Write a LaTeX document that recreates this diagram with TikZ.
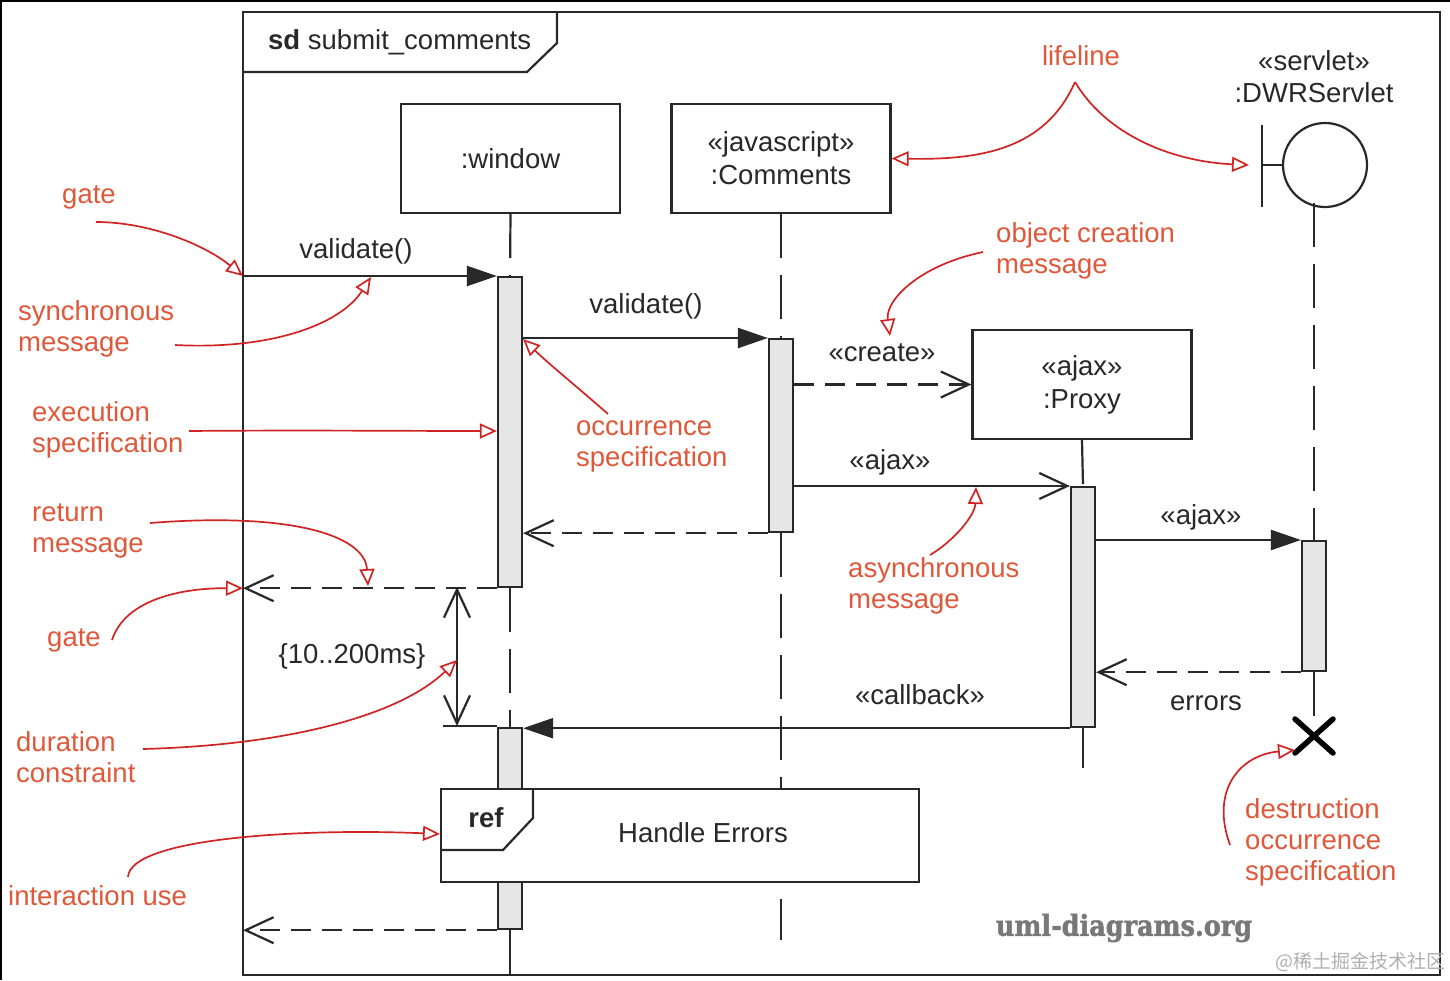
\documentclass[tikz,border=0pt]{standalone}
\usepackage{fontspec}
\setmainfont{Liberation Sans}
\newfontfamily\wmfont[FakeStretch=0.88,FakeBold=1.5]{DejaVu Serif}
\newfontfamily\cjkfont{Noto Sans CJK SC}
\usetikzlibrary{arrows.meta,calc}
\definecolor{ink}{RGB}{40,40,40}
\definecolor{annotext}{RGB}{224,88,58}
\definecolor{annoline}{RGB}{208,36,36}
\definecolor{actfill}{RGB}{230,230,230}
\tikzset{
  vtip/.tip={Straight Barb[length=28pt,width=26pt,line width=2.2pt]},
  base/.style={line width=2.2pt, draw=ink},
  txt/.style={font=\fontsize{27.5}{31}\selectfont, text=ink, inner sep=0pt, align=center},
  atxt/.style={font=\fontsize{27.5}{31}\selectfont, text=annotext, inner sep=0pt, align=left, anchor=west},
  lifebox/.style={base, fill=white, minimum width=219pt, minimum height=109pt, inner sep=0pt, font=\fontsize{27.5}{33}\selectfont, text=ink, align=center},
  act/.style={base, fill=actfill, minimum width=24pt, inner sep=0pt, anchor=north},
  lifeline/.style={base, dash pattern=on 44pt off 17pt},
  sync/.style={base, -{Triangle[length=30pt,width=20pt]}},
  async/.style={base, -{vtip}},
  retmsg/.style={base, dash pattern=on 20pt off 11pt, -{vtip}},
  anno/.style={draw=annoline, line width=1.7pt, -{Triangle[open,length=17pt,width=15pt,line width=1.7pt]}},
}
\begin{document}
\begin{tikzpicture}[x=1pt,y=-1pt]
\useasboundingbox (0,0) rectangle (1450,980);
\fill[white] (0,0) rectangle (1450,980);
\draw[line width=4pt, black] (0,0) -- (1450,0);
\draw[line width=4pt, black] (0,0) -- (0,980);

% frame
\draw[base] (243,12) rectangle (1440,975);
\draw[base] (243,72) -- (527,72) -- (557,43) -- (557,12);
\node[txt, anchor=west] (sd) at (268,42) {\textbf{sd} submit\_comments};

% lifeline heads
\node[lifebox] (w) at (510.5,158.5) {:window};
\node[lifebox] (c) at (781,158.5) {«javascript»\\:Comments};
\node[lifebox] (p) at (1082,384.5) {«ajax»\\:Proxy};
\node[txt, font=\fontsize{27.5}{32}\selectfont] (s) at (1314,77) {«servlet»\\:DWRServlet};
\node[base, circle, minimum size=84pt, inner sep=0pt] (sc) at (1325,165) {};
\coordinate (sb1) at (1262,125);
\coordinate (sb2) at (1262,207);
\draw[base] (sb1) -- (sb2);
\draw[base] (1262,165) -- (sc.west);
\coordinate (stop) at (1314,203);

% activations
\node[act, minimum height=310pt] (a1) at (510,276) {};
\node[act, minimum height=193pt] (a2) at (781,338) {};
\node[act, minimum height=240pt] (a3) at (1083,486) {};
\node[act, minimum height=130pt] (a4) at (1314,540) {};
\node[act, minimum height=201pt] (a5) at (510,727) {};

% lifelines
\coordinate (wend) at (510,975);
\coordinate (cend) at (781,940);
\coordinate (pend) at (1083,768);
\draw[lifeline] (w.south) -- (a1.north);
\draw[lifeline] (a1.south) -- (a5.north);
\draw[lifeline] (a5.south) -- (wend);
\draw[lifeline] (c.south) -- (a2.north);
\draw[lifeline] (a2.south) -- (cend);
\draw[lifeline] (p.south) -- (a3.north);
\draw[lifeline] (a3.south) -- (pend);
\draw[lifeline] (stop) -- (a4.north);

% destruction
\coordinate (X) at (1314,736);
\draw[lifeline] (a4.south) -- (X);
\draw[line width=5.5pt, black, line cap=round] ($(X)+(-19,-17)$) -- ($(X)+(19,17)$);
\draw[line width=5.5pt, black, line cap=round] ($(X)+(-19,17)$) -- ($(X)+(19,-17)$);

% gates (on the frame edge)
\coordinate (gx) at (243,0);
\coordinate (g1) at (gx |- a1.north west);
\coordinate (g2) at (gx |- a1.south west);
\coordinate (g3) at (gx |- a5.south west);

% messages
\draw[sync] (g1) -- (a1.north west);
\node[txt] (m1) at (356,251) {validate()};
\draw[sync] (a1.east |- a2.north west) -- (a2.north west);
\node[txt] (m2) at (646,306) {validate()};
\draw[retmsg] (a2.east |- p.west) -- (p.west);
\node[txt] (m3) at (882,353) {«create»};
\draw[async] (a2.east |- a3.north west) -- (a3.north west);
\node[txt] (m4) at (890,462) {«ajax»};
\draw[sync] (a3.east |- a4.north west) -- (a4.north west);
\node[txt] (m5) at (1201,517) {«ajax»};
\draw[retmsg] (a4.south west) -- (a3.east |- a4.south west);
\node[txt] (m6) at (1206,703) {errors};
\draw[sync] (a3.south west) -- (a3.south west -| a5.east);
\node[txt] (m7) at (920,695) {«callback»};
\draw[retmsg] (a2.south west) -- (a1.east |- a2.south west);
\draw[retmsg] (a1.south west) -- (g2);
\draw[retmsg] (a5.south west) -- (g3);

% duration constraint
\coordinate (d1) at (457,587);
\coordinate (d2) at (457,726);
\coordinate (dt) at (443,726);
\draw[base, {vtip}-{vtip}] (d1) -- (d2);
\draw[base] (dt) -- (dt -| a5.west);
\node[txt] (dc) at (352,656) {\{10..200ms\}};

% interaction use
\node[base, fill=white, minimum width=478pt, minimum height=93pt, inner sep=0pt, anchor=north west] (ref) at (440,788) {};
\draw[base] (ref.north west) ++(0,62) -- ++(63,0) -- ++(30,-32) -- ++(0,-30);
\node[txt, font=\bfseries\fontsize{27.5}{31}\selectfont] (reft) at (486,818) {ref};
\node[txt] (he) at (703,833) {Handle Errors};

% watermarks
\node[inner sep=0pt, text={rgb,255:red,120;green,120;blue,120}, font=\wmfont\bfseries\fontsize{29}{32}\selectfont] (wm) at (1124,928) {uml-diagrams.org};
\node[inner sep=0pt, anchor=east, text={rgb,255:red,175;green,175;blue,175}, font=\cjkfont\fontsize{19}{22}\selectfont] (cn) at (1446,962) {@稀土掘金技术社区};

% annotations
\node[atxt, anchor=center] (t1) at (1081,56) {lifeline};
\coordinate (lp) at (1075,82);
\draw[anno] (lp) .. controls (1045,150) and (980,160) .. (c.east);
\draw[anno] (lp) .. controls (1110,140) and (1180,162) .. (1249,165);

\node[atxt] (t2) at (996,251) {object creation\\message};
\draw[anno] (983,252) .. controls (920,265) and (885,300) .. (890,336);

\node[atxt, anchor=center] (t3) at (89,197) {gate};
\draw[anno] (96,222) .. controls (150,222) and (205,245) .. (g1);

\node[atxt] (t4) at (18,329) {synchronous\\message};
\draw[anno] (175,345) .. controls (270,350) and (340,325) .. (371,277);

\node[atxt] (t5) at (32,430) {execution\\specification};
\draw[anno] (189,431) .. controls (300,430) and (400,431) .. (a1.west |- 0,431);

\node[atxt] (t6) at (576,446) {occurrence\\specification};
\draw[anno] (608,414) .. controls (575,385) and (550,365) .. (523,339);

\node[atxt] (t7) at (32,531) {return\\message};
\draw[anno] (150,523) .. controls (290,512) and (365,535) .. (368,586);

\node[atxt, anchor=center] (t8) at (74,640) {gate};
\draw[anno] (112,640) .. controls (125,600) and (180,588) .. (g2);

\node[atxt] (t9) at (848,586) {asynchronous\\message};
\draw[anno] (930,555) .. controls (955,540) and (975,515) .. (976,487);

\node[atxt] (t10) at (16,757) {duration\\constraint};
\draw[anno] (143,749) .. controls (290,745) and (400,715) .. (457,660);

\node[atxt] (t11) at (8,896) {interaction use};
\draw[anno] (128,877) .. controls (130,838) and (300,828) .. (ref.west |- 0,834);

\node[atxt] (t12) at (1245,842) {destruction\\occurrence\\specification};
\draw[anno] (1230,845) .. controls (1210,790) and (1240,755) .. (1295,750);
\end{tikzpicture}
\end{document}
